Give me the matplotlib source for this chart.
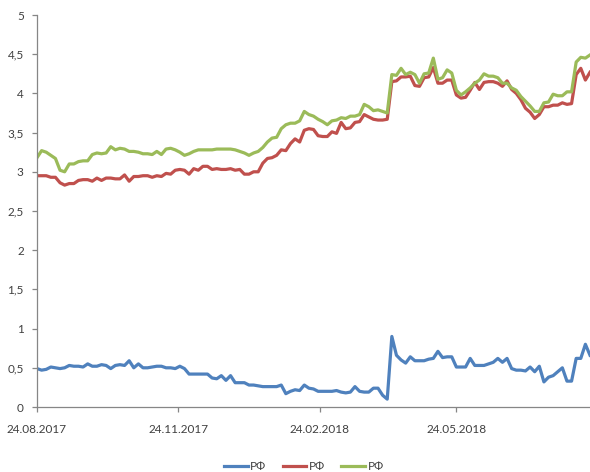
import matplotlib
matplotlib.use("Agg")
import matplotlib.pyplot as plt
import matplotlib.dates as mdates
import pandas as pd

plt.rcParams['font.family'] = ['Lato', 'DejaVu Sans']

start_date = "2017-08-24"
n_points = 121
dates = pd.date_range(start_date, periods=n_points, freq="3D")

series_labels = ["РФ", "РФ", "РФ"]

blue = [0.49, 0.47, 0.48, 0.51, 0.50, 0.49, 0.50, 0.53, 0.52, 0.52,
        0.51, 0.55, 0.52, 0.52, 0.54, 0.53, 0.49, 0.53, 0.54, 0.53,
        0.59, 0.50, 0.55, 0.50, 0.50, 0.51, 0.52, 0.52, 0.50, 0.50,
        0.49, 0.52, 0.49, 0.42, 0.42, 0.42, 0.42, 0.42, 0.37, 0.36,
        0.40, 0.34, 0.40, 0.31, 0.31, 0.31, 0.28, 0.28, 0.27, 0.26,
        0.26, 0.26, 0.26, 0.28, 0.17, 0.20, 0.22, 0.21, 0.28, 0.24,
        0.23, 0.20, 0.20, 0.20, 0.20, 0.21, 0.19, 0.18, 0.19, 0.26,
        0.20, 0.19, 0.19, 0.24, 0.24, 0.15, 0.10, 0.90, 0.66, 0.60,
        0.56, 0.64, 0.59, 0.59, 0.59, 0.61, 0.62, 0.71, 0.63, 0.64,
        0.64, 0.51, 0.51, 0.51, 0.62, 0.53, 0.53, 0.53, 0.55, 0.57,
        0.62, 0.57, 0.62, 0.49, 0.47, 0.47, 0.46, 0.51, 0.45, 0.52,
        0.32, 0.38, 0.40, 0.45, 0.50, 0.33, 0.33, 0.62, 0.62, 0.80,
        0.66]

red = [2.95, 2.95, 2.95, 2.93, 2.93, 2.86, 2.83, 2.85, 2.85, 2.89,
       2.90, 2.90, 2.88, 2.92, 2.89, 2.92, 2.92, 2.91, 2.91, 2.96,
       2.88, 2.94, 2.94, 2.95, 2.95, 2.93, 2.95, 2.94, 2.98, 2.97,
       3.02, 3.03, 3.02, 2.97, 3.04, 3.02, 3.07, 3.07, 3.03, 3.04,
       3.03, 3.03, 3.04, 3.02, 3.03, 2.97, 2.97, 3.00, 3.00, 3.11,
       3.17, 3.18, 3.21, 3.28, 3.27, 3.36, 3.42, 3.38, 3.53, 3.55,
       3.54, 3.46, 3.45, 3.45, 3.51, 3.49, 3.63, 3.55, 3.56, 3.63,
       3.64, 3.73, 3.70, 3.67, 3.66, 3.66, 3.67, 4.15, 4.16, 4.21,
       4.21, 4.22, 4.10, 4.09, 4.20, 4.21, 4.33, 4.13, 4.13, 4.17,
       4.17, 3.98, 3.94, 3.95, 4.04, 4.14, 4.05, 4.14, 4.15, 4.15,
       4.13, 4.09, 4.16, 4.05, 4.00, 3.92, 3.81, 3.76, 3.68, 3.73,
       3.83, 3.83, 3.85, 3.85, 3.88, 3.86, 3.87, 4.24, 4.32, 4.17,
       4.27]

green = [3.18, 3.27, 3.25, 3.21, 3.17, 3.02, 3.00, 3.10, 3.10, 3.13,
         3.14, 3.14, 3.22, 3.24, 3.23, 3.24, 3.32, 3.28, 3.30, 3.29,
         3.26, 3.26, 3.25, 3.23, 3.23, 3.22, 3.26, 3.22, 3.29, 3.30,
         3.28, 3.25, 3.21, 3.23, 3.26, 3.28, 3.28, 3.28, 3.28, 3.29,
         3.29, 3.29, 3.29, 3.28, 3.26, 3.24, 3.21, 3.24, 3.26, 3.31,
         3.38, 3.43, 3.44, 3.55, 3.60, 3.62, 3.62, 3.65, 3.77, 3.73,
         3.71, 3.67, 3.64, 3.60, 3.65, 3.66, 3.69, 3.68, 3.71, 3.71,
         3.73, 3.86, 3.83, 3.78, 3.79, 3.77, 3.75, 4.24, 4.23, 4.32,
         4.24, 4.27, 4.24, 4.13, 4.25, 4.26, 4.45, 4.18, 4.20, 4.30,
         4.26, 4.04, 3.98, 4.02, 4.07, 4.13, 4.17, 4.25, 4.22, 4.22,
         4.20, 4.13, 4.13, 4.07, 4.04, 3.96, 3.90, 3.84, 3.77, 3.77,
         3.88, 3.89, 3.99, 3.97, 3.97, 4.02, 4.02, 4.40, 4.46, 4.45,
         4.49]

x_tick_dates = ["2017-08-24", "2017-11-24", "2018-02-24", "2018-05-24"]
y_ticks = [0, 0.5, 1, 1.5, 2, 2.5, 3, 3.5, 4, 4.5, 5]
y_tick_labels = ["0", "0,5", "1", "1,5", "2", "2,5", "3", "3,5", "4", "4,5", "5"]

colors = ["#4F81BD", "#C0504D", "#9BBB59"]

fig = plt.figure(figsize=(5.9, 4.72), dpi=100)
ax = fig.add_axes([37 / 590, 65 / 472, 553 / 590, 392 / 472])

for vals, c, lab in zip([blue, red, green], colors, series_labels):
    ax.plot(dates, vals, color=c, lw=2.3, label=lab, solid_joinstyle="round")

ax.set_xlim(dates[0], dates[-1])
ax.set_ylim(0, 5)
ax.set_yticks(y_ticks)
ax.set_yticklabels(y_tick_labels)
xt = pd.to_datetime(x_tick_dates)
ax.set_xticks(xt)
ax.set_xticklabels([d.strftime("%d.%m.%Y") for d in xt])

for s in ["top", "right"]:
    ax.spines[s].set_visible(False)
for s in ["left", "bottom"]:
    ax.spines[s].set_color("#868686")
    ax.spines[s].set_linewidth(0.9)

ax.tick_params(axis="both", colors="#868686", labelcolor="#404040",
               labelsize=8.5, length=3.5, width=0.9)
ax.tick_params(axis="x", pad=9)
ax.tick_params(axis="y", pad=6)

leg = fig.legend(loc="lower center", bbox_to_anchor=(0.515, -0.022), ncol=3,
                 frameon=False, fontsize=8.5, handlelength=2.0,
                 handletextpad=0.2, columnspacing=1.4)
for t in leg.get_texts():
    t.set_color("#404040")

fig.savefig("out.png", dpi=100)
